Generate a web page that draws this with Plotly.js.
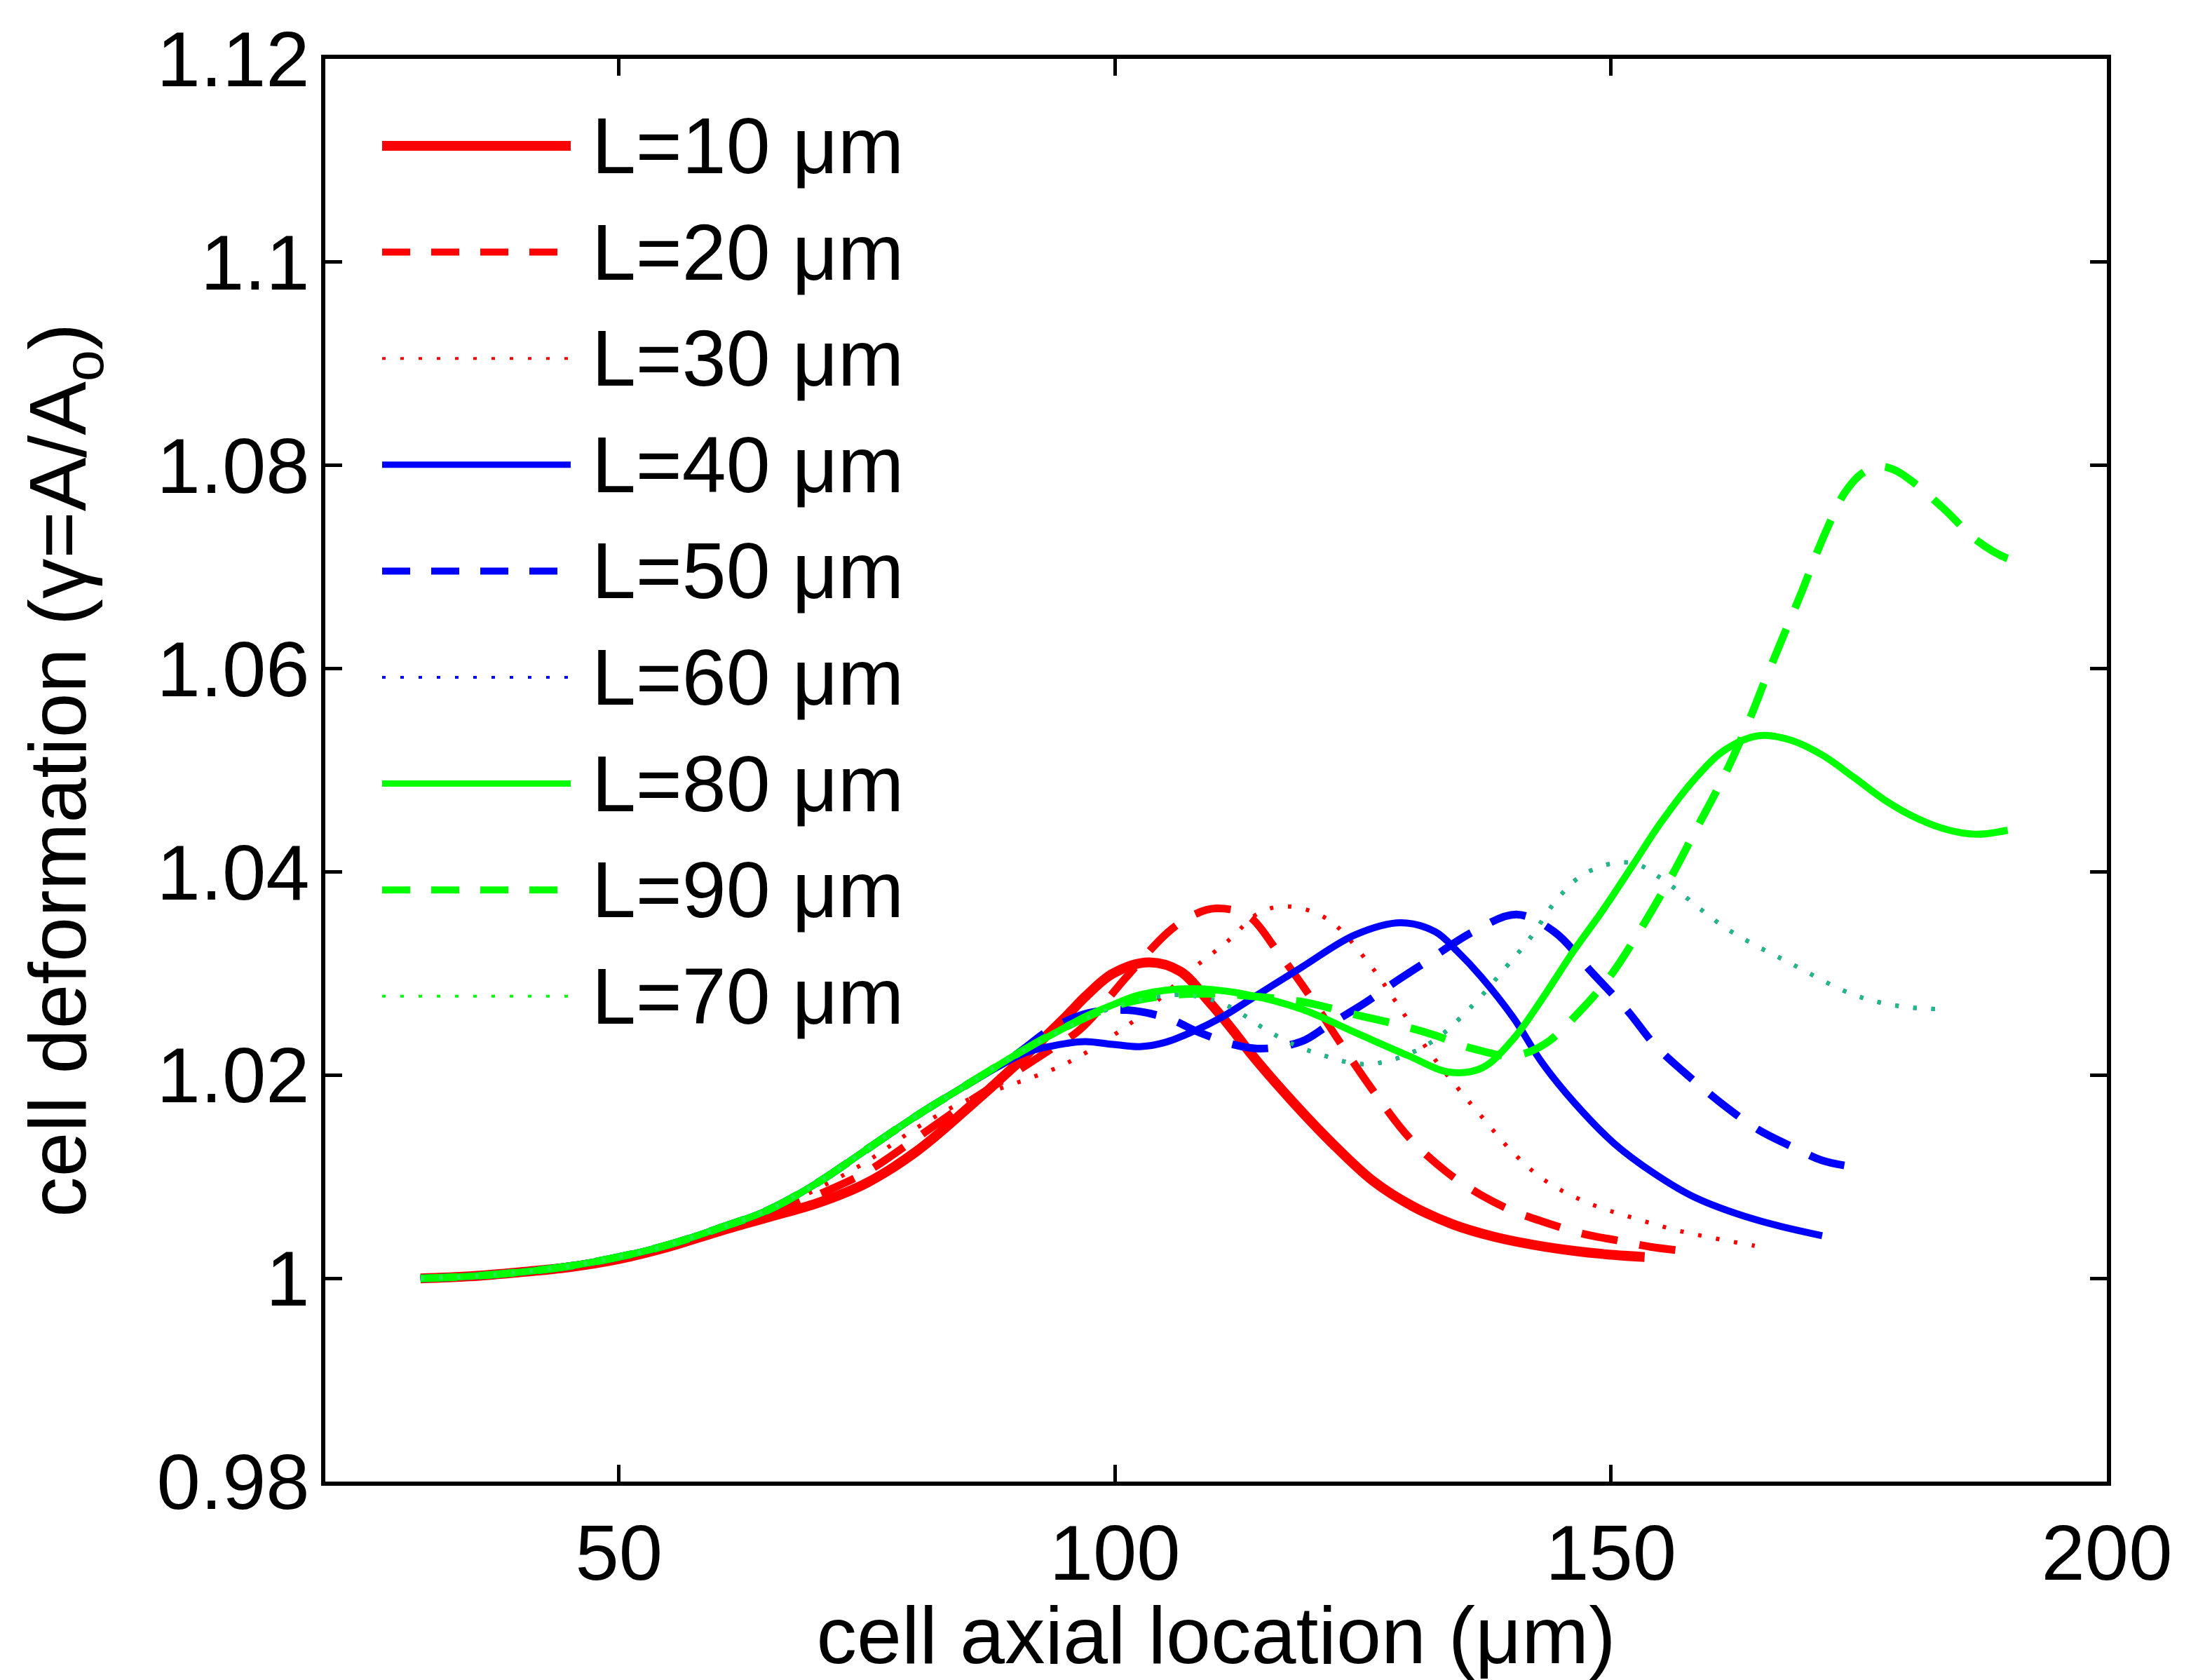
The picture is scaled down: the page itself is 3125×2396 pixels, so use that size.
<!DOCTYPE html>
<html>
<head>
<meta charset="utf-8">
<script src="https://cdn.plot.ly/plotly-3.0.1.min.js"></script>
<style>html,body{margin:0;padding:0;background:#fff;}</style>
</head>
<body>
<div id="chart"></div>
<script>
// ---------------- data ----------------
const baseX = [30, 35, 40, 45, 50, 55, 60, 65, 70, 75, 80, 85];
const baseY = [1.0, 1.0002, 1.0006, 1.0012, 1.0021, 1.0033, 1.0049, 1.0067, 1.0094, 1.0127, 1.0160, 1.0190];

const x10 = [30, 35, 40, 45, 50, 55, 60, 65, 70, 75, 80, 85, 90, 95, 97.1, 99.8, 103.4, 106.6, 109.5, 111.9, 113.8, 117.9, 121.9, 126, 130, 134.1, 138.2, 142.2, 146.3, 150.3, 153.4];
const y10 = [1.0, 1.0002, 1.0006, 1.0011, 1.0019, 1.0031, 1.0046, 1.0060, 1.0074, 1.0094, 1.0125, 1.0166, 1.0210, 1.0257, 1.0278, 1.0300, 1.0311, 1.0302, 1.0272, 1.0244, 1.0220, 1.0174, 1.0133, 1.0096, 1.0071, 1.0053, 1.0041, 1.0033, 1.0027, 1.0023, 1.0021];

const x20 = [30, 35, 40, 45, 50, 55, 60, 65, 70, 75, 80, 85, 90, 93, 96.5, 101.3, 105.4, 108, 110.2, 113.4, 116.3, 119.5, 122.5, 126, 129.7, 133.4, 136.9, 140.2, 143.4, 147.1, 150.8, 154, 158.2];
const y20 = [1.0, 1.0002, 1.0006, 1.0011, 1.0019, 1.0031, 1.0047, 1.0063, 1.0082, 1.0105, 1.0138, 1.0172, 1.0203, 1.0222, 1.0245, 1.0298, 1.0341, 1.0358, 1.0364, 1.0357, 1.0323, 1.0280, 1.0235, 1.0185, 1.0138, 1.0105, 1.0082, 1.0066, 1.0055, 1.0044, 1.0037, 1.0031, 1.0026];

const x30 = [30, 35, 40, 45, 50, 55, 60, 65, 70, 75, 80, 85, 90, 95.2, 101.3, 104.5, 107.4, 111.4, 114.6, 117.5, 121.5, 125.6, 128.4, 131.6, 134.5, 136.9, 140.2, 143.4, 147.5, 152.4, 157.2, 164.5];
const y30 = [1.0, 1.0002, 1.0006, 1.0011, 1.0019, 1.0031, 1.0047, 1.0065, 1.0088, 1.0115, 1.0148, 1.0175, 1.0192, 1.0212, 1.0249, 1.0275, 1.0301, 1.0332, 1.0360, 1.0366, 1.0353, 1.0310, 1.0271, 1.0224, 1.0188, 1.0160, 1.0123, 1.0096, 1.0075, 1.0059, 1.0046, 1.0032];

const x40 = baseX.concat([88, 91, 95, 97, 100, 102.5, 105, 107.9, 110.6, 114.7, 118.8, 124.2, 128.8, 132.3, 134.5, 136.9, 140.2, 143, 146.3, 150.3, 154.4, 158.4, 164.5, 171.3]);
const y40 = baseY.concat([1.0207, 1.0222, 1.0231, 1.0233, 1.0230, 1.0228, 1.0232, 1.0243, 1.0256, 1.0281, 1.0306, 1.0338, 1.0350, 1.0341, 1.0322, 1.0297, 1.0256, 1.0213, 1.0173, 1.0133, 1.0103, 1.0080, 1.0058, 1.0042]);

const x50 = baseX.concat([90, 93.5, 97.3, 101.2, 105.3, 108.5, 112, 114.7, 118.8, 121.5, 125.2, 128, 131.3, 136.1, 140.5, 144.3, 148, 151.7, 154.4, 157.6, 161.3, 164.9, 168.6, 171.3, 175.5]);
const y50 = baseY.concat([1.0220, 1.0245, 1.0261, 1.0264, 1.0256, 1.0242, 1.0230, 1.0226, 1.0233, 1.0249, 1.0271, 1.0290, 1.0311, 1.0341, 1.0358, 1.0341, 1.0302, 1.0263, 1.0230, 1.0201, 1.0171, 1.0146, 1.0128, 1.0116, 1.0108]);

const x60 = baseX.concat([90, 95, 100, 105, 108, 111.4, 115.5, 118.5, 121.5, 124.5, 127.6, 132, 136.1, 139.4, 141.8, 144.5, 147, 150, 152.5, 155.3, 161.7, 168.1, 174.5, 179, 183]);
const y60 = baseY.concat([1.0220, 1.0246, 1.0267, 1.0278, 1.0278, 1.0268, 1.0243, 1.0228, 1.0218, 1.0211, 1.0214, 1.0233, 1.0269, 1.0306, 1.0334, 1.0372, 1.0396, 1.0408, 1.0408, 1.0392, 1.0344, 1.0310, 1.0279, 1.0268, 1.0265]);

const x70 = x60.slice();
const y70 = y60.slice();

const x80 = baseX.concat([90, 95, 97.1, 100, 102.5, 107.9, 113.4, 118.8, 124.2, 129.6, 133.7, 137, 140.2, 143, 146.3, 149.1, 152.1, 155, 158.5, 161.5, 164.9, 168, 171.3, 174.5, 177.7, 181, 184.1, 187, 190]);
const y80 = baseY.concat([1.0220, 1.0247, 1.0258, 1.0270, 1.0279, 1.0285, 1.0279, 1.0265, 1.0242, 1.0219, 1.0203, 1.0207, 1.0236, 1.0274, 1.0323, 1.0361, 1.0405, 1.0448, 1.0492, 1.0520, 1.0534, 1.0530, 1.0515, 1.0493, 1.0470, 1.0452, 1.0441, 1.0437, 1.0441]);

const x90 = baseX.concat([90, 95, 100, 105, 110, 113.4, 117.5, 120, 124, 128, 132, 136.1, 140.2, 143.4, 146.7, 149.9, 152.4, 155.9, 158.5, 161.7, 164.1, 165.4, 167.3, 169.3, 170.6, 171.9, 173.5, 175.3, 177, 178.7, 180.4, 183.6, 186.9, 190.1, 191.6]);
const y90 = baseY.concat([1.0220, 1.0247, 1.0268, 1.0278, 1.0280, 1.0278, 1.0274, 1.0270, 1.0260, 1.0251, 1.0240, 1.0226, 1.0219, 1.0231, 1.0261, 1.0297, 1.0334, 1.0392, 1.0440, 1.0500, 1.0553, 1.0585, 1.0630, 1.0677, 1.0710, 1.0740, 1.0772, 1.0792, 1.0799, 1.0795, 1.0784, 1.0757, 1.0726, 1.0708, 1.0706]);

const seriesNames = ['L=10 μm', 'L=20 μm', 'L=30 μm', 'L=40 μm', 'L=50 μm', 'L=60 μm', 'L=80 μm', 'L=90 μm', 'L=70 μm'];

const xTickVals = [50, 100, 150, 200];
const xTickText = ['50', '100', '150', '200'];
const yTickVals = [0.98, 1.0, 1.02, 1.04, 1.06, 1.08, 1.1, 1.12];
const yTickText = ['0.98', '1', '1.02', '1.04', '1.06', '1.08', '1.1', '1.12'];

// ---------------- styles ----------------
const RED = '#ff0000', BLUE = '#0000ff', GREEN = '#00ff00';
const DASH = '52px,32px', DOT = '5px,21px';
const seriesData = [[x10, y10], [x20, y20], [x30, y30], [x40, y40], [x50, y50], [x60, y60], [x80, y80], [x90, y90], [x70, y70]];
const styles = [
  {color: RED, width: 14, dash: 'solid', lw: 14, ldash: 'solid'},
  {color: RED, width: 11, dash: DASH, lw: 10, ldash: '40px,30px'},
  {color: RED, width: 6, dash: DOT, lw: 4, ldash: '5px,21px'},
  {color: BLUE, width: 10, dash: 'solid', lw: 9, ldash: 'solid'},
  {color: BLUE, width: 11, dash: DASH, lw: 10, ldash: '40px,30px'},
  {color: BLUE, width: 6, dash: DOT, lw: 4, ldash: '5px,21px'},
  {color: GREEN, width: 10, dash: 'solid', lw: 9, ldash: 'solid'},
  {color: GREEN, width: 11, dash: DASH, lw: 10, ldash: '40px,30px'},
  {color: 'rgba(40,235,95,0.8)', width: 6, dash: DOT, lw: 4, ldash: '5px,21px', lcolor: GREEN}
];

const traces = seriesData.map((d, i) => ({
  type: 'scatter', mode: 'lines', name: seriesNames[i],
  x: d[0], y: d[1],
  line: {color: styles[i].color, width: styles[i].width, dash: styles[i].dash, shape: 'spline', smoothing: 1.0},
  hoverinfo: 'skip'
}));

// ---------------- layout ----------------
const W = 3125, H = 2396;
const M = {l: 464, r: 120, t: 84, b: 283};
const plotW = W - M.l - M.r, plotH = H - M.t - M.b;
const px2x = p => (p - M.l) / plotW;
const py2y = p => (H - M.b - p) / plotH;

const shapes = [], annotations = [];
seriesNames.forEach((name, i) => {
  const yy = py2y(208 + i * 151.6);
  const st = styles[i];
  shapes.push({type: 'line', xref: 'paper', yref: 'paper', x0: px2x(545), x1: px2x(814), y0: yy, y1: yy,
    line: {color: st.lcolor || st.color, width: st.lw, dash: st.ldash}});
  annotations.push({xref: 'paper', yref: 'paper', x: px2x(842), y: yy, xanchor: 'left', yanchor: 'middle',
    text: name, showarrow: false, font: {size: 113, color: '#000'}});
});

const FONT = 'Liberation Sans, Arial, Helvetica, sans-serif';
const axisCommon = {
  showline: true, linewidth: 6, linecolor: '#000', mirror: 'ticks',
  ticks: 'inside', ticklen: 24, tickwidth: 5, tickcolor: '#000',
  showgrid: false, zeroline: false, tickfont: {size: 112, color: '#000'}
};

const layout = {
  width: W, height: H, margin: M,
  paper_bgcolor: '#fff', plot_bgcolor: '#fff',
  font: {family: FONT, color: '#000'},
  showlegend: false,
  xaxis: Object.assign({}, axisCommon, {
    range: [20.4, 200], tickmode: 'array', tickvals: xTickVals, ticktext: xTickText,
    ticklabelstandoff: 0,
    title: {text: 'cell axial location (μm)', font: {size: 115, color: '#000'}, standoff: 8}
  }),
  yaxis: Object.assign({}, axisCommon, {
    range: [0.98, 1.12], tickmode: 'array', tickvals: yTickVals, ticktext: yTickText,
    ticklabelstandoff: -6,
    title: {text: 'cell deformation (γ=A/A<sub>o</sub>)', font: {size: 115, color: '#000'}, standoff: 64}
  }),
  shapes: shapes,
  annotations: annotations
};

Plotly.newPlot('chart', traces, layout, {displayModeBar: false, staticPlot: true});
</script>
</body>
</html>
